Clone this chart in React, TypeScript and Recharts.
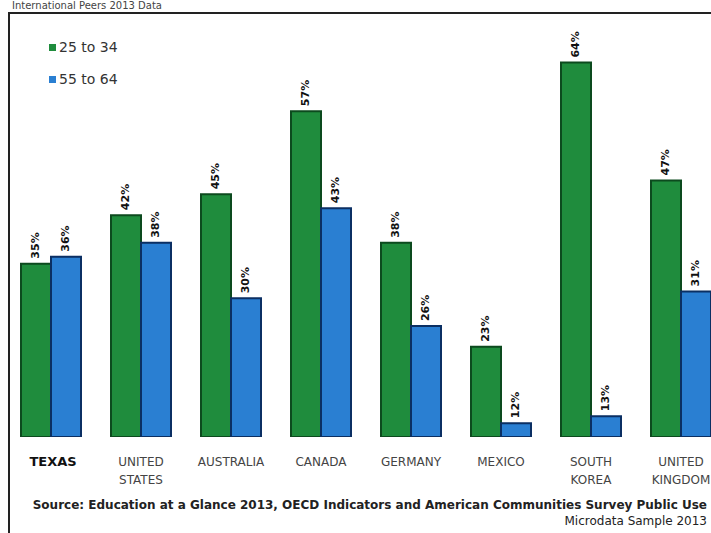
import { BarChart, Bar, XAxis, YAxis, LabelList } from "recharts";

const CATEGORIES = ["TEXAS", "UNITED STATES", "AUSTRALIA", "CANADA", "GERMANY", "MEXICO", "SOUTH KOREA", "UNITED KINGDOM"];
const AGE_25_34 = [35, 42, 45, 57, 38, 23, 64, 47];
const AGE_55_64 = [36, 38, 30, 43, 26, 12, 13, 31];
const SERIES_NAMES = ["25 to 34", "55 to 64"];

const GREEN = "#1f8c3d";
const GREEN_EDGE = "#0c4a1e";
const BLUE = "#2a7fd2";
const BLUE_EDGE = "#0b2f63";

const data = CATEGORIES.map((c, i) => ({ name: c, young: AGE_25_34[i], old: AGE_55_64[i] }));

const FONT = "'DejaVu Sans', Verdana, sans-serif";

function CategoryTick(props: any) {
  const { x, y, payload } = props;
  const name: string = payload.value;
  const isTexas = name === "TEXAS";
  const lines = name.split(" ");
  return (
    <g>
      {lines.map((ln, i) => (
        <text
          key={i}
          x={x + (isTexas ? 2 : 0)}
          y={y + 21 + i * 18}
          textAnchor="middle"
          fontSize={isTexas ? 13 : 12}
          fontWeight={isTexas ? 700 : 400}
          fill={isTexas ? "#111" : "#444"}
          fontFamily={FONT}
        >
          {ln}
        </text>
      ))}
    </g>
  );
}

function PctLabel(props: any) {
  const { x, y, width, value } = props;
  const cx = x + width / 2;
  const ty = y - 5;
  return (
    <text
      x={cx}
      y={ty}
      transform={`rotate(-90 ${cx} ${ty})`}
      textAnchor="start"
      dominantBaseline="central"
      fontSize={11}
      fontWeight={700}
      fill="#111"
      fontFamily={FONT}
    >
      {`${value}%`}
    </text>
  );
}

export default function App() {
  return (
    <div
      style={{
        position: "fixed",
        left: 0,
        top: 0,
        width: 711,
        height: 533,
        overflow: "hidden",
        background: "#fff",
        fontFamily: FONT,
      }}
    >
      <div style={{ position: "absolute", left: 12, top: 0, fontSize: 10, lineHeight: "11px", color: "#444", whiteSpace: "nowrap" }}>
        International Peers 2013 Data
      </div>
      <div style={{ position: "absolute", left: 8, top: 12, width: 720, height: 540, borderLeft: "2px solid #222", borderTop: "2px solid #222" }} />

      <div style={{ position: "absolute", left: 0, top: 0 }}>
        <BarChart
          width={726}
          height={533}
          data={data}
          margin={{ top: 21, right: 0, bottom: 0, left: 6 }}
          barCategoryGap={15}
          barGap={0}
        >
          <XAxis dataKey="name" axisLine={false} tickLine={false} height={96} interval={0} tick={<CategoryTick />} />
          <YAxis hide domain={[10, 70]} allowDataOverflow />
          <Bar dataKey="young" name={SERIES_NAMES[0]} fill={GREEN} stroke={GREEN_EDGE} strokeWidth={2} isAnimationActive={false}>
            <LabelList dataKey="young" content={<PctLabel />} />
          </Bar>
          <Bar dataKey="old" name={SERIES_NAMES[1]} fill={BLUE} stroke={BLUE_EDGE} strokeWidth={2} isAnimationActive={false}>
            <LabelList dataKey="old" content={<PctLabel />} />
          </Bar>
        </BarChart>
      </div>

      <div style={{ position: "absolute", left: 49, top: 38, fontSize: 14, color: "#333" }}>
        <div style={{ display: "flex", alignItems: "center", height: 18 }}>
          <span style={{ display: "inline-block", width: 7, height: 7, background: GREEN, marginRight: 3 }} />
          {SERIES_NAMES[0]}
        </div>
        <div style={{ display: "flex", alignItems: "center", height: 18, marginTop: 14 }}>
          <span style={{ display: "inline-block", width: 7, height: 7, background: BLUE, marginRight: 3 }} />
          {SERIES_NAMES[1]}
        </div>
      </div>

      <div
        style={{
          position: "absolute",
          right: 4,
          top: 497,
          fontSize: 12,
          fontWeight: 600,
          lineHeight: "16px",
          color: "#222",
          textAlign: "right",
          whiteSpace: "nowrap",
        }}
      >
        <div>
          Source: Education at a Glance 2013, OECD Indicators and American Communities Survey Public Use
        </div>
        <div style={{ fontWeight: 400 }}>Microdata Sample 2013</div>
      </div>
    </div>
  );
}
